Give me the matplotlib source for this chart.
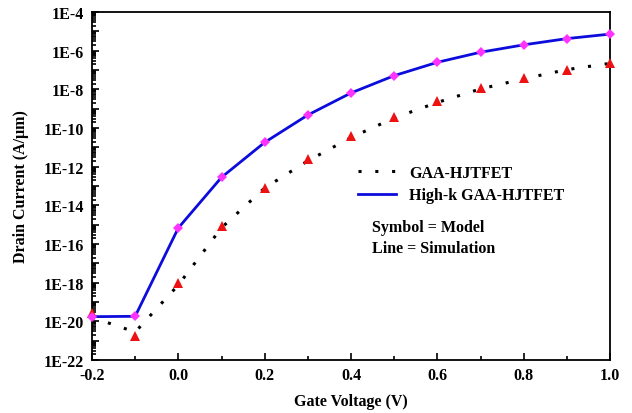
import numpy as np
import matplotlib
matplotlib.use("Agg")
import matplotlib.pyplot as plt
from matplotlib.lines import Line2D
from matplotlib.ticker import LogLocator, NullFormatter, MultipleLocator

plt.rcParams['font.family'] = ['Liberation Serif', 'DejaVu Serif']
plt.rcParams['font.weight'] = 'bold'

#########################
# DATA
#########################
vg = [-0.2, -0.1, 0.0, 0.1, 0.2, 0.3, 0.4, 0.5, 0.6, 0.7, 0.8, 0.9, 1.0]

# GAA-HJTFET, simulation (dotted line)
gaa_sim = [1.6e-20, 2.8e-21, 7.6e-19, 6.9e-16, 7.9e-14, 2.0e-12, 3.2e-11,
           3.3e-10, 2.1e-9, 1.05e-8, 3.5e-8, 1.05e-7, 2.2e-7]
# GAA-HJTFET, model (red triangles)
gaa_model = [2.8e-20, 1.8e-21, 9.1e-19, 8.9e-16, 7.9e-14, 2.5e-12, 3.7e-11,
             3.5e-10, 2.5e-9, 1.2e-8, 3.7e-8, 1.05e-7, 2.3e-7]
# High-k GAA-HJTFET, simulation (blue line) and model (magenta diamonds)
hk_sim = [1.74e-20, 1.82e-20, 6.8e-16, 2.8e-13, 1.8e-11, 4.7e-10, 6.5e-9,
          5.1e-8, 2.5e-7, 8.3e-7, 2.0e-6, 4.2e-6, 7.2e-6]
hk_model = [1.74e-20, 1.82e-20, 6.8e-16, 2.8e-13, 1.8e-11, 4.7e-10, 6.5e-9,
            5.1e-8, 2.5e-7, 8.3e-7, 2.0e-6, 4.2e-6, 7.2e-6]

x_ticks = [-0.2, 0.0, 0.2, 0.4, 0.6, 0.8, 1.0]
x_labels = ["-0.2", "0.0", "0.2", "0.4", "0.6", "0.8", "1.0"]
y_exps = list(range(-22, -3))
y_labels = [f"1E{e}" if e % 2 == 0 else "" for e in y_exps]

DOTS = (0, (1.0, 4.5))
FS = 11.5

#########################
# PLOT
#########################
fig = plt.figure(figsize=(6.32, 4.14), dpi=100)
ax = fig.add_axes([92 / 632, 1 - 361 / 414, (610 - 92) / 632, (361 - 13) / 414])

ax.plot(vg, gaa_sim, color='black', linewidth=2.2, linestyle=DOTS,
        dash_capstyle='butt', zorder=2)
ax.plot(vg, hk_sim, color='#0c0cdc', linewidth=2.0, zorder=3)
ax.plot(vg, gaa_model, linestyle='none', marker='^', markersize=7.5,
        color='#ee1111', markeredgewidth=0, zorder=4, clip_on=False)
ax.plot(vg, hk_model, linestyle='none', marker='D', markersize=5.5,
        color='#ff33ff', markeredgewidth=0, zorder=5, clip_on=False)

ax.set_yscale('log')
ax.set_xlim(-0.2, 1.0)
ax.set_ylim(1e-22, 1e-4)

ax.set_xticks(x_ticks)
ax.set_xticklabels(x_labels)
ax.xaxis.set_minor_locator(MultipleLocator(0.1))
ax.set_yticks([10.0 ** e for e in y_exps])
ax.set_yticklabels(y_labels)
ax.yaxis.set_minor_locator(LogLocator(base=10, subs=np.arange(2, 10), numticks=100))
ax.yaxis.set_minor_formatter(NullFormatter())

ax.tick_params(which='both', direction='in', top=False, right=False,
               labelsize=FS, width=1.2)
ax.tick_params(axis='x', which='major', length=5, pad=5)
ax.tick_params(axis='x', which='minor', length=3)
ax.tick_params(axis='y', which='major', length=5, pad=6)
ax.tick_params(axis='y', which='minor', length=3)
for lab in ax.get_xticklabels() + ax.get_yticklabels():
    lab.set_fontweight('bold')
for sp in ax.spines.values():
    sp.set_linewidth(1.3)

fig.text(21 / 632, 1 - 187 / 414, "Drain Current (A/\u03bcm)", rotation=90,
         ha='center', va='center', fontsize=FS, fontweight='bold')
fig.text(351 / 632, 1 - 402 / 414, "Gate Voltage (V)", ha='center',
         va='center', fontsize=FS, fontweight='bold')

handles = [
    Line2D([], [], color='black', linewidth=2.2, linestyle=DOTS,
           dash_capstyle='butt'),
    Line2D([], [], color='#0c0cdc', linewidth=2.0),
]
ax.legend(handles, ["GAA-HJTFET", "High-k GAA-HJTFET"], loc='center left',
          bbox_to_anchor=(358 / 632, 1 - 185 / 414), bbox_transform=fig.transFigure,
          frameon=False, handlelength=2.4, handletextpad=0.8,
          labelspacing=0.4, borderpad=0, borderaxespad=0,
          prop={'weight': 'bold', 'size': FS})

fig.text(372 / 632, 1 - 228 / 414, "Symbol = Model", ha='left', va='center',
         fontsize=FS, fontweight='bold')
fig.text(372 / 632, 1 - 249 / 414, "Line = Simulation", ha='left', va='center',
         fontsize=FS, fontweight='bold')

fig.savefig("out.png", dpi=100)
